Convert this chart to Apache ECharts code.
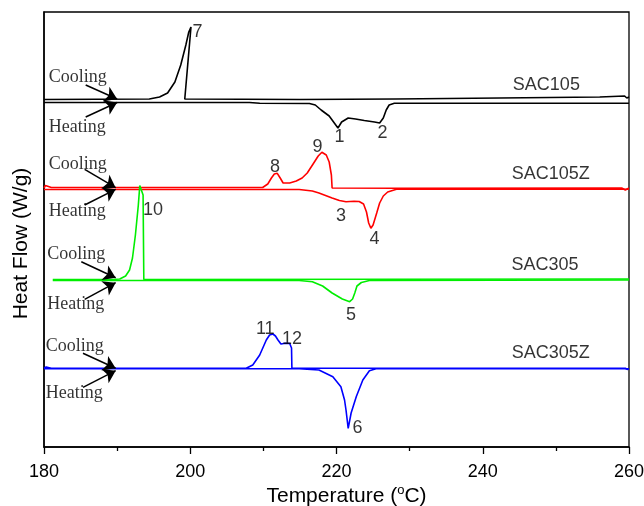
<!DOCTYPE html>
<html>
<head>
<meta charset="utf-8">
<script src="https://cdn.jsdelivr.net/npm/echarts@6/dist/echarts.min.js"></script>
<style>
  html, body { margin: 0; padding: 0; background: #fff; }
  #dsc { width: 644px; height: 506px; }
</style>
</head>
<body>
<div id="dsc"></div>
<script>
// DSC curves, temperature (C) vs heat flow (W/g, curves shifted apart)
var sac105Cool = [[180.0,3.475],[194.4,3.48],[195.8,3.50],[196.9,3.54],[197.9,3.65],[198.7,3.82],[199.4,4.02],[199.8,4.15],[200.1,4.20],[200.25,4.20],[199.25,3.48],[215,3.475],[228,3.48],[242.3,3.49],[256,3.50],[259.4,3.51],[259.7,3.49],[260,3.50]];
var sac105Heat = [[180,3.445],[208.1,3.445],[209.5,3.437],[216.3,3.435],[217.1,3.42],[217.9,3.37],[219.0,3.31],[219.8,3.23],[220.2,3.19],[220.7,3.25],[221.6,3.29],[222.6,3.28],[223.8,3.265],[225.2,3.25],[225.9,3.24],[226.4,3.29],[226.8,3.37],[227.2,3.42],[227.9,3.437],[260,3.437]];

var sac105zCool = [[180,2.59],[180.2,2.615],[181,2.595],[209.9,2.595],[210.6,2.63],[211.1,2.69],[211.5,2.73],[211.9,2.737],[212.3,2.69],[212.7,2.64],[213.6,2.64],[214.5,2.66],[215.3,2.69],[216.0,2.74],[216.8,2.83],[217.5,2.91],[218.0,2.947],[218.6,2.92],[219.0,2.85],[219.3,2.72],[219.4,2.59],[228,2.588],[259,2.59],[259.5,2.57],[260,2.59]];
var sac105zHeat = [[180,2.575],[214.9,2.575],[216.7,2.56],[217.6,2.54],[219.4,2.49],[220.4,2.465],[221.3,2.453],[222.4,2.457],[223.1,2.455],[223.7,2.43],[224.1,2.35],[224.4,2.24],[224.7,2.187],[225.0,2.22],[225.5,2.34],[225.9,2.44],[226.4,2.51],[227.0,2.55],[228.2,2.577],[260,2.577]];

var sac305Cool = [[181.2,1.675],[189.4,1.675],[190.36,1.68],[191.16,1.71],[191.7,1.77],[192.1,1.89],[192.5,2.12],[192.9,2.42],[193.1,2.615],[193.3,2.61],[193.55,2.52],[193.65,1.675],[260,1.68]];
var sac305Heat = [[181.2,1.665],[214.9,1.665],[216.7,1.653],[218.1,1.61],[219.4,1.54],[220.8,1.48],[221.8,1.453],[222.2,1.48],[222.5,1.54],[222.8,1.61],[223.4,1.645],[224.5,1.665],[260,1.67]];

var sac305zCool = [[180,0.787],[180.3,0.80],[181,0.787],[207.65,0.787],[208.55,0.82],[209.5,0.92],[210.4,1.07],[210.85,1.12],[211.3,1.13],[211.65,1.11],[212.0,1.07],[212.4,1.03],[213.0,1.037],[213.6,1.035],[213.85,0.99],[213.9,0.787],[259.5,0.787],[259.8,0.775],[260,0.787]];
var sac305zHeat = [[180,0.782],[214.9,0.782],[217.6,0.77],[219.5,0.703],[220.6,0.603],[221.1,0.47],[221.3,0.37],[221.6,0.187],[222.0,0.34],[222.7,0.503],[223.6,0.67],[224.5,0.763],[225.4,0.782],[260,0.782]];

// annotations (data coordinates)
var sampleNames = ['SAC105', 'SAC105Z', 'SAC305', 'SAC305Z'];
var sampleNameAt = [[248.7,3.62],[249.3,2.728],[248.5,1.815],[249.3,0.94]];
var peakNames = ['1','2','3','4','5','6','7','8','9','10','11','12'];
var peakAt = [[220.4,3.10],[226.3,3.137],[220.6,2.312],[225.2,2.082],[222.0,1.315],[222.86,0.187],[201.0,4.145],[211.6,2.795],[217.4,3.003],[194.9,2.373],[210.26,1.182],[213.9,1.082]];
var coolingAt = [[180.65,3.70],[180.65,2.83],[180.45,1.93],[180.25,1.01]];
var heatingAt = [[180.65,3.20],[180.65,2.357],[180.45,1.423],[180.25,0.54]];
var coolArrowFrom = [[185.7,3.62],[185.56,2.777],[185.1,1.853],[185.33,0.937]];
var coolArrowTo = [[190.0,3.48],[189.8,2.593],[189.8,1.693],[189.8,0.787]];
var heatArrowFrom = [[185.7,3.30],[185.56,2.42],[185.56,1.477],[185.33,0.597]];
var heatArrowTo = [[190.0,3.445],[189.8,2.577],[189.8,1.643],[189.8,0.763]];

var xTicks = [180, 200, 220, 240, 260];

var SANS = "'Liberation Sans', Arial, sans-serif";
var SERIF = "'Liberation Serif', 'Times New Roman', serif";

function curve(name, data, color) {
	return {
		name: name,
		type: 'line',
		data: data,
		showSymbol: false,
		symbol: 'none',
		silent: true,
		lineStyle: { color: color, width: 1.6 },
		z: 2
	};
}

var notes = [];
sampleNames.forEach(function (n, i) {
	notes.push({ value: sampleNameAt[i], name: n, label: { fontFamily: SANS, fontSize: 18 } });
});
peakNames.forEach(function (n, i) {
	notes.push({ value: peakAt[i], name: n, label: { fontFamily: SANS, fontSize: 18 } });
});
coolingAt.forEach(function (p) {
	notes.push({ value: p, name: 'Cooling', label: { fontFamily: SERIF, fontSize: 18, align: 'left' } });
});
heatingAt.forEach(function (p) {
	notes.push({ value: p, name: 'Heating', label: { fontFamily: SERIF, fontSize: 18, align: 'left' } });
});

var arrows = [];
for (var i = 0; i < 4; i++) {
	arrows.push([{ coord: coolArrowFrom[i] }, { coord: coolArrowTo[i] }]);
	arrows.push([{ coord: heatArrowFrom[i] }, { coord: heatArrowTo[i] }]);
}

var myChart = echarts.init(document.getElementById('dsc'));
var option = {
	backgroundColor: '#fff',
	animation: false,
	grid: {
		left: 44, right: 15, top: 12, bottom: 59,
		show: true, borderColor: '#000', borderWidth: 1.3,
		outerBoundsMode: 'none'
	},
	xAxis: {
		type: 'value',
		min: 180, max: 260, interval: 20,
		name: 'Temperature ({sup|o}C)',
		nameLocation: 'middle',
		nameGap: 37,
		nameMoveOverlap: false,
		nameTextStyle: {
			fontFamily: SANS, fontSize: 21, color: '#000', padding: [0, 0, 0, 20],
			rich: { sup: { fontFamily: SANS, fontSize: 13, color: '#000', padding: [0, 0, 11, 0] } }
		},
		axisLine: { show: true, lineStyle: { color: '#000', width: 1.5 } },
		axisTick: { show: true, inside: false, length: 7, lineStyle: { color: '#000', width: 1.3 } },
		minorTick: { show: true, splitNumber: 2, length: 4, lineStyle: { color: '#000', width: 1.3 } },
		axisLabel: {
			fontFamily: SANS, fontSize: 18, color: '#000', margin: 16,
			formatter: function (v) { return xTicks.indexOf(v) >= 0 ? String(v) : ''; }
		},
		splitLine: { show: false }
	},
	yAxis: {
		type: 'value',
		min: 0, max: 4.35,
		name: 'Heat Flow (W/g)',
		nameLocation: 'middle',
		nameGap: 12,
		nameMoveOverlap: false,
		nameTextStyle: { fontFamily: SANS, fontSize: 21, color: '#000', padding: [0, 28, 0, 0] },
		axisLine: { show: true, lineStyle: { color: '#000', width: 1.5 } },
		axisTick: { show: false },
		axisLabel: { show: false },
		splitLine: { show: false }
	},
	series: [
		curve('SAC105 cooling', sac105Cool, '#000000'),
		curve('SAC105 heating', sac105Heat, '#000000'),
		curve('SAC105Z cooling', sac105zCool, '#ff0000'),
		curve('SAC105Z heating', sac105zHeat, '#ff0000'),
		curve('SAC305 cooling', sac305Cool, '#00ee00'),
		curve('SAC305 heating', sac305Heat, '#00ee00'),
		curve('SAC305Z cooling', sac305zCool, '#0000ff'),
		curve('SAC305Z heating', sac305zHeat, '#0000ff'),
		{
			name: 'notes',
			type: 'scatter',
			symbolSize: 0,
			silent: true,
			data: notes,
			label: {
				show: true,
				position: 'inside',
				formatter: '{b}',
				color: '#000',
				align: 'center',
				verticalAlign: 'middle'
			},
			markLine: {
				silent: true,
				symbol: ['none', 'arrow'],
				symbolSize: 12,
				label: { show: false },
				lineStyle: { color: '#000', width: 1.5, type: 'solid' },
				itemStyle: { color: '#000' },
				emphasis: { disabled: true },
				data: arrows
			},
			z: 3
		}
	]
};
myChart.setOption(option);
</script>
</body>
</html>
